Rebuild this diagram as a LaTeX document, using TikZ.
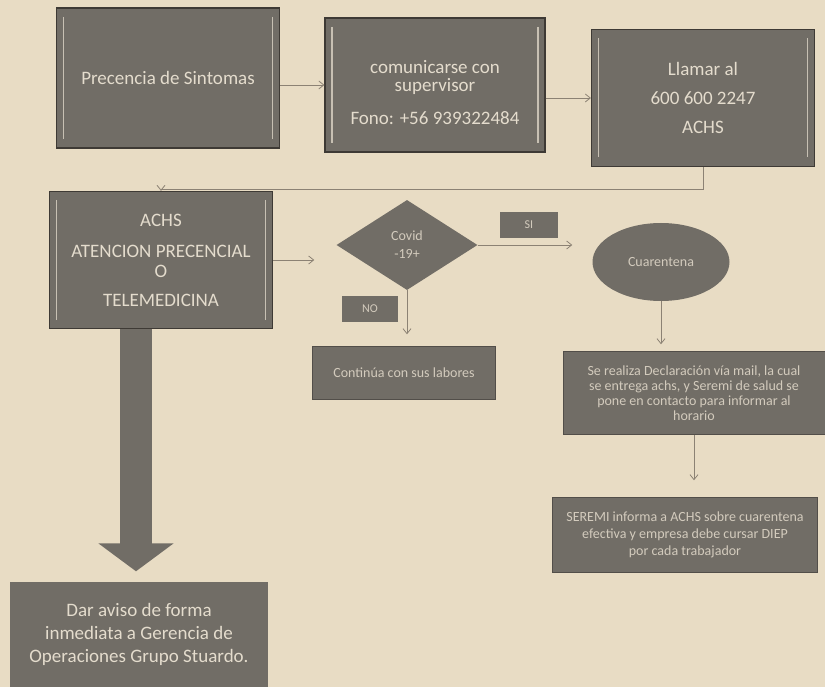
\documentclass[tikz,border=0pt]{standalone}
\usepackage{fontspec}
\setmainfont{Carlito}
\usetikzlibrary{shapes.geometric,arrows.meta}
\definecolor{paper}{HTML}{E8DCC4}
\definecolor{boxgray}{HTML}{716D66}
\definecolor{txt}{HTML}{E4DCCD}
\definecolor{edge}{HTML}{3E3A35}
\definecolor{wire}{HTML}{8C8274}

\begin{document}
\begin{tikzpicture}[x=1pt,y=-1pt,
	box/.style={draw=edge, line width=1.2pt, fill=boxgray, text=txt, align=center, inner sep=2pt},
	panel/.style={box, path picture={
		\draw[txt!75!boxgray, line width=1.6pt] ([xshift=7pt,yshift=-9pt]path picture bounding box.north west) -- ([xshift=7pt,yshift=9pt]path picture bounding box.south west);
		\draw[txt!75!boxgray, line width=1.6pt] ([xshift=-7pt,yshift=-9pt]path picture bounding box.north east) -- ([xshift=-7pt,yshift=9pt]path picture bounding box.south east);}},
	flat/.style={fill=boxgray, text=txt!85!boxgray, align=center, inner sep=2pt, font=\fontsize{14}{15}\selectfont},
	link/.style={draw=wire, line width=0.8pt, -{Straight Barb[length=5pt,width=8pt]}}]
	\useasboundingbox[fill=paper] (0,0) rectangle (825,687);
	% top row
	\node[panel, minimum width=223pt, minimum height=140pt, font=\fontsize{19}{22}\selectfont] (sint) at (168,78) {Precencia de Sintomas};
	\node[panel, minimum width=220pt, minimum height=134pt, font=\fontsize{19}{18}\selectfont] (superv) at (435,85) {\rule{0pt}{28pt}comunicarse con\\ supervisor\\[15pt] Fono: +56 939322484};
	\node[panel, minimum width=223pt, minimum height=137pt, font=\fontsize{19}{29}\selectfont] (llamar) at (703,98) {Llamar al\\ 600 600 2247\\ ACHS};
	% second row
	\node[panel, minimum width=223pt, minimum height=137pt, font=\fontsize{19}{24}\selectfont] (achs) at (161,260) {ACHS\\[7pt] ATENCION PRECENCIAL\\[-4pt] O\\[5pt] TELEMEDICINA};
	\node[diamond, flat, aspect=1.57, minimum width=141pt, minimum height=90pt, inner sep=0pt, font=\fontsize{14}{18}\selectfont] (caso) at (407,245) {Covid\\ -19+};
	\node[ellipse, flat, minimum width=137pt, minimum height=78pt] (cuar) at (661,262) {Cuarentena};
	\node[flat, minimum width=58pt, minimum height=26pt, font=\fontsize{12}{13}\selectfont] (si) at (529,225) {SI};
	\node[flat, minimum width=56pt, minimum height=26pt, font=\fontsize{12}{13}\selectfont] (no) at (370,309) {NO};
	\node[flat, draw=edge!60!boxgray, minimum width=183pt, minimum height=53pt] (cont) at (404,373) {Continúa con sus labores};
	\node[flat, draw=edge!60!boxgray, minimum width=262pt, minimum height=83pt] (decl) at (694,393) {Se realiza Declaración vía mail, la cual\\ se entrega achs, y Seremi de salud se\\ pone en contacto para informar al\\ horario};
	\node[flat, draw=edge!60!boxgray, minimum width=265pt, minimum height=75pt, font=\fontsize{14}{17}\selectfont] (seremi) at (685,535) {SEREMI informa a ACHS sobre cuarentena\\ efectiva y empresa debe cursar DIEP\\ por cada trabajador};
	\node[flat, minimum width=258pt, minimum height=105pt, text=txt, font=\fontsize{19}{23}\selectfont] (aviso) at (139,634) {Dar aviso de forma\\ inmediata a Gerencia de\\ Operaciones Grupo Stuardo.};
	% connectors
	\draw[link] (sint.east |- superv.west) -- (superv.west);
	\draw[link] (superv.east |- llamar.west) -- (llamar.west);
	\draw[link] (llamar.south) -- ++(0,22) -| (achs.north);
	\draw[link, shorten >=22pt] (achs.east) -- (achs.east -| caso.west);
	\draw[link, shorten >=20pt] (caso.east) -- (caso.east -| cuar.west);
	\draw[link, shorten >=12pt] (caso.south) -- (caso.south |- cont.north);
	\draw[link, shorten >=7pt] (cuar.south) -- (cuar.south |- decl.north);
	\draw[link, shorten >=17pt] (decl.south) -- (decl.south |- seremi.north);
	\draw[draw=boxgray, line width=32pt, -{Triangle[width=74pt,length=28pt]}] ([xshift=-25pt]achs.south) -- ([xshift=-3pt,yshift=10pt]aviso.north);
\end{tikzpicture}
\end{document}
